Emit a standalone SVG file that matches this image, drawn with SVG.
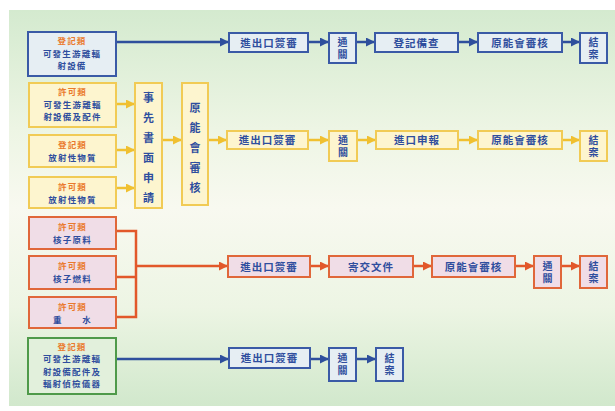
<svg xmlns="http://www.w3.org/2000/svg" width="615" height="411" viewBox="0 0 615 411">
<defs>
<linearGradient id="bg" x1="0" y1="0" x2="0" y2="1">
<stop offset="0" stop-color="#d4eacf"/>
<stop offset="0.3" stop-color="#edf5e4"/>
<stop offset="0.5" stop-color="#f8f9f0"/>
<stop offset="0.75" stop-color="#edf5e4"/>
<stop offset="1" stop-color="#d1e8cc"/>
</linearGradient>
<marker id="ab" markerWidth="9" markerHeight="9" refX="8" refY="4.5" orient="auto" markerUnits="userSpaceOnUse"><path d="M0,0 L9,4.5 L0,9 z" fill="#2e4f9c"/></marker>
<marker id="ay" markerWidth="9" markerHeight="9" refX="8" refY="4.5" orient="auto" markerUnits="userSpaceOnUse"><path d="M0,0 L9,4.5 L0,9 z" fill="#f0c030"/></marker>
<marker id="ao" markerWidth="9" markerHeight="9" refX="8" refY="4.5" orient="auto" markerUnits="userSpaceOnUse"><path d="M0,0 L9,4.5 L0,9 z" fill="#e2582a"/></marker>
</defs>
<style>
text{font-family:"Noto Sans CJK TC","Noto Sans CJK SC",sans-serif;font-size:8.5px;letter-spacing:1.2px;text-anchor:middle;fill:#2f4e9e;font-weight:bold}
.lab{fill:#ea7a2c}
.t{font-size:10.5px;letter-spacing:1px}
.v{writing-mode:vertical-rl;font-size:10px;letter-spacing:2px}
.vl{writing-mode:vertical-rl;font-size:11px;letter-spacing:9px}
.b rect{fill:#e6eef3;stroke:#3a5aa6;stroke-width:2}
.y rect{fill:#fdf5cf;stroke:#f1cb55;stroke-width:2}
.o rect{fill:#f0dde7;stroke:#e0673a;stroke-width:2}
.g rect{fill:#e2f0dc;stroke:#4f9a4a;stroke-width:2}
.cb{stroke:#2e4f9c;stroke-width:2.5;fill:none}
.cy{stroke:#f0c030;stroke-width:2.5;fill:none}
.co{stroke:#e2582a;stroke-width:2.5;fill:none}
</style>
<rect x="0" y="0" width="615" height="411" fill="#ffffff"/>
<rect x="9" y="10" width="606" height="396" fill="url(#bg)"/>

<g id="connectors">
<line class="cb" x1="116" y1="42" x2="228" y2="42" marker-end="url(#ab)"/>
<line class="cb" x1="308" y1="42" x2="328" y2="42" marker-end="url(#ab)"/>
<line class="cb" x1="356" y1="42" x2="374" y2="42" marker-end="url(#ab)"/>
<line class="cb" x1="458" y1="42" x2="477" y2="42" marker-end="url(#ab)"/>
<line class="cb" x1="562" y1="42" x2="579" y2="42" marker-end="url(#ab)"/>

<line class="cy" x1="116" y1="104" x2="134" y2="104" marker-end="url(#ay)"/>
<line class="cy" x1="116" y1="150" x2="134" y2="150" marker-end="url(#ay)"/>
<line class="cy" x1="116" y1="188" x2="134" y2="188" marker-end="url(#ay)"/>
<line class="cy" x1="162" y1="140" x2="181" y2="140" marker-end="url(#ay)"/>
<line class="cy" x1="208" y1="140" x2="226" y2="140" marker-end="url(#ay)"/>
<line class="cy" x1="308" y1="140" x2="328" y2="140" marker-end="url(#ay)"/>
<line class="cy" x1="357" y1="140" x2="375" y2="140" marker-end="url(#ay)"/>
<line class="cy" x1="458" y1="140" x2="477" y2="140" marker-end="url(#ay)"/>
<line class="cy" x1="562" y1="140" x2="579" y2="140" marker-end="url(#ay)"/>

<path class="co" d="M116,231 H136 V317 H116 M116,277 H136"/>
<line class="co" x1="136" y1="266" x2="227" y2="266" marker-end="url(#ao)"/>
<line class="co" x1="310" y1="266" x2="328" y2="266" marker-end="url(#ao)"/>
<line class="co" x1="413" y1="266" x2="431" y2="266" marker-end="url(#ao)"/>
<line class="co" x1="515" y1="266" x2="533" y2="266" marker-end="url(#ao)"/>
<line class="co" x1="561" y1="266" x2="579" y2="266" marker-end="url(#ao)"/>

<line class="cb" x1="116" y1="359" x2="228" y2="359" marker-end="url(#ab)"/>
<line class="cb" x1="310" y1="359" x2="328" y2="359" marker-end="url(#ab)"/>
<line class="cb" x1="356" y1="359" x2="375" y2="359" marker-end="url(#ab)"/>
</g>

<!-- Row 1 -->
<g id="n1" class="b"><rect x="28" y="32" width="88" height="44"/><text class="lab" x="72" y="44">登記類</text><text x="72" y="56.5">可發生游離輻</text><text x="72" y="69">射設備</text></g>
<g id="r1a" class="b"><rect x="229" y="33" width="79" height="19"/><text class="t" x="269" y="46.5">進出口簽審</text></g>
<g id="r1b" class="b"><rect x="329" y="33" width="27" height="30"/><text class="v" x="342.5" y="49">通關</text></g>
<g id="r1c" class="b"><rect x="375" y="33" width="83" height="19"/><text class="t" x="416.5" y="46.5">登記備查</text></g>
<g id="r1d" class="b"><rect x="478" y="33" width="84" height="19"/><text class="t" x="520" y="46.5">原能會審核</text></g>
<g id="r1e" class="b"><rect x="580" y="33" width="27" height="30"/><text class="v" x="593.5" y="49">結案</text></g>

<!-- Row 2 -->
<g id="n2" class="y"><rect x="29" y="83" width="87" height="44"/><text class="lab" x="72.5" y="95">許可類</text><text x="72.5" y="107.5">可發生游離輻</text><text x="72.5" y="120">射設備及配件</text></g>
<g id="n3" class="y"><rect x="29" y="135" width="87" height="32"/><text class="lab" x="72.5" y="147.5">登記類</text><text x="72.5" y="160.5">放射性物質</text></g>
<g id="n4" class="y"><rect x="29" y="177" width="87" height="31"/><text class="lab" x="72.5" y="189.5">許可類</text><text x="72.5" y="202.5">放射性物質</text></g>
<g id="v1" class="y"><rect x="135" y="83" width="27" height="125"/><text class="vl" x="148.5" y="152">事先書面申請</text></g>
<g id="v2" class="y"><rect x="182" y="83" width="26" height="122"/><text class="vl" x="195" y="152">原能會審核</text></g>
<g id="r2a" class="y"><rect x="227" y="131" width="81" height="18"/><text class="t" x="267.5" y="144">進出口簽審</text></g>
<g id="r2b" class="y"><rect x="329" y="131" width="28" height="30"/><text class="v" x="343" y="147">通關</text></g>
<g id="r2c" class="y"><rect x="376" y="131" width="82" height="18"/><text class="t" x="417" y="144">進口申報</text></g>
<g id="r2d" class="y"><rect x="478" y="131" width="84" height="18"/><text class="t" x="520" y="144">原能會審核</text></g>
<g id="r2e" class="y"><rect x="580" y="131" width="27" height="30"/><text class="v" x="593.5" y="147">結案</text></g>

<!-- Row 3 -->
<g id="n5" class="o"><rect x="29" y="217" width="87" height="32"/><text class="lab" x="72.5" y="229.5">許可類</text><text x="72.5" y="242.5">核子原料</text></g>
<g id="n6" class="o"><rect x="29" y="256" width="87" height="33"/><text class="lab" x="72.5" y="269">許可類</text><text x="72.5" y="282">核子燃料</text></g>
<g id="n7" class="o"><rect x="29" y="297" width="87" height="31"/><text class="lab" x="72.5" y="309.5">許可類</text><text x="72.5" y="322.5">重　　水</text></g>
<g id="r3a" class="o"><rect x="228" y="256" width="82" height="21"/><text class="t" x="269" y="270.5">進出口簽審</text></g>
<g id="r3b" class="o"><rect x="329" y="256" width="84" height="21"/><text class="t" x="371" y="270.5">寄交文件</text></g>
<g id="r3c" class="o"><rect x="432" y="256" width="83" height="21"/><text class="t" x="473.5" y="270.5">原能會審核</text></g>
<g id="r3d" class="o"><rect x="534" y="256" width="27" height="32"/><text class="v" x="547.5" y="273">通關</text></g>
<g id="r3e" class="o"><rect x="580" y="256" width="27" height="32"/><text class="v" x="593.5" y="273">結案</text></g>

<!-- Row 4 -->
<g id="n8" class="g"><rect x="28" y="338" width="88" height="56"/><text class="lab" x="72" y="349.5">登記類</text><text x="72" y="362">可發生游離輻</text><text x="72" y="374.5">射設備配件及</text><text x="72" y="387">輻射偵檢儀器</text></g>
<g id="r4a" class="b"><rect x="229" y="348" width="81" height="20"/><text class="t" x="269.5" y="362">進出口簽審</text></g>
<g id="r4b" class="b"><rect x="329" y="348" width="27" height="33"/><text class="v" x="342.5" y="365.5">通關</text></g>
<g id="r4c" class="b"><rect x="376" y="348" width="27" height="33"/><text class="v" x="389.5" y="365.5">結案</text></g>
</svg>
